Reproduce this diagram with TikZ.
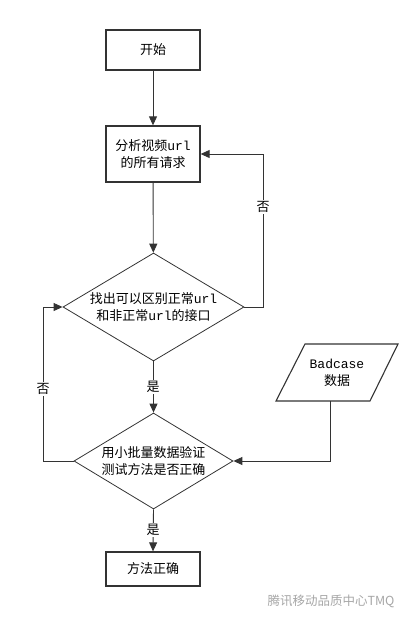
\documentclass[tikz,border=0pt]{standalone}
\usepackage{fontspec}
\setmainfont{Noto Sans CJK SC}
\newfontfamily\latinmono{Liberation Mono}
\usetikzlibrary{shapes.geometric,arrows.meta}
\definecolor{ln}{HTML}{333333}
\tikzset{
  box/.style={draw=ln,line width=1.3pt,minimum width=94pt,align=center,font=\fontsize{13}{17}\selectfont,inner sep=0pt},
  dec/.style={draw=ln,line width=0.8pt,diamond,aspect=1.67,align=center,font=\fontsize{13}{17}\selectfont,inner sep=0pt},
  conn/.style={draw=ln,line width=0.9pt,-{Triangle[length=9pt,width=8pt]}},
  lbl/.style={fill=white,inner sep=1pt,font=\fontsize{13}{15}\selectfont}
}
\begin{document}
\begin{tikzpicture}[x=1pt,y=-1pt]
\useasboundingbox (0,0) rectangle (412,622);
\node[box,minimum height=40pt] (start) at (153,50) {开始};
\node[box,minimum height=56pt] (analyze) at (153,154) {分析视频{\latinmono url}\\的所有请求};
\node[dec,minimum width=181pt,minimum height=108pt] (find) at (153.5,307) {};
\node[font=\fontsize{13}{17}\selectfont,align=center] (findtxt) at (153.5,307) {找出可以区别正常{\latinmono url}\\和非正常{\latinmono url}的接口};
\node[dec,minimum width=159pt,minimum height=96pt] (verify) at (153.5,461) {};
\node[font=\fontsize{13}{17}\selectfont,align=center] (verifytxt) at (153.5,461) {用小批量数据验证\\测试方法是否正确};
\node[box,minimum height=34pt] (ok) at (153,569) {方法正确};
\coordinate (p1) at (305,344);
\coordinate (p2) at (398,344);
\coordinate (p3) at (370,401);
\coordinate (p4) at (276,401);
\draw[draw=ln,line width=1.1pt] (p1) -- (p2) -- (p3) -- (p4) -- cycle;
\node[align=center,font=\fontsize{13}{17}\selectfont] (bad) at (337,372.5) {{\latinmono Badcase}\\数据};
\coordinate (b0) at (330,401);
\coordinate (r1) at (263,307);
\coordinate (r2) at (263,154);
\coordinate (l1) at (43,461);
\coordinate (l2) at (43,307);
\coordinate (b1) at (330,461);
\draw[conn] (start) -- (analyze);
\draw[conn] (analyze) -- (find);
\draw[conn] (find.east) -- (r1) -- (r2) -- (analyze.east);
\node[lbl] (no1) at (263,207) {否};
\draw[conn] (find.south) -- (verify.north);
\node[lbl] (yes1) at (153,387) {是};
\draw[conn] (verify.west) -- (l1) -- (l2) -- (find.west);
\node[lbl] (no2) at (43,389) {否};
\draw[conn] (b0) -- (b1) -- (verify.east);
\draw[conn] (verify.south) -- (ok.north);
\node[lbl] (yes2) at (153,530) {是};
\node[text=gray!70,font=\fontsize{12.5}{14}\selectfont,anchor=west] (wm) at (264,601) {腾讯移动品质中心TMQ};
\end{tikzpicture}
\end{document}
